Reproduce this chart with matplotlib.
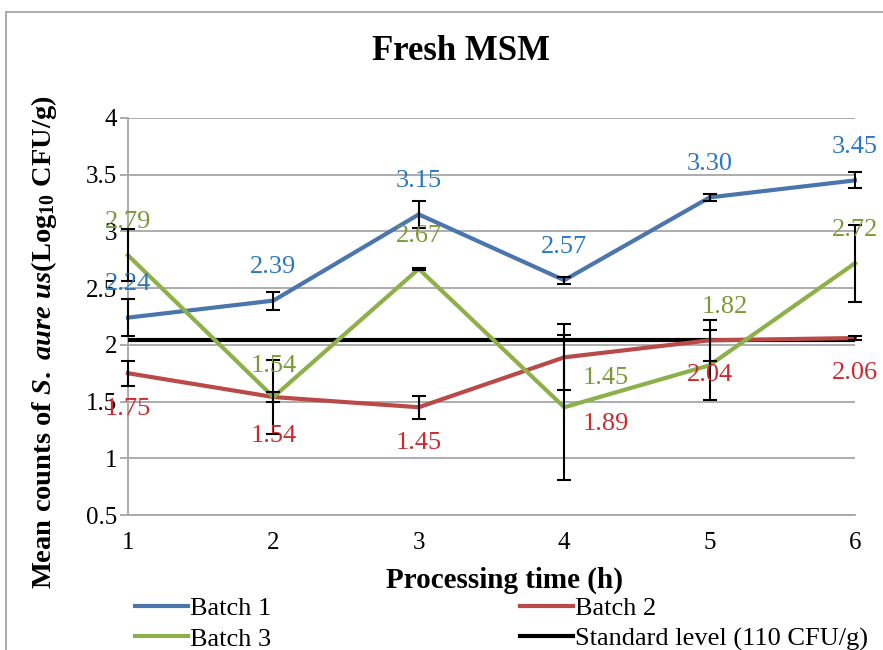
import numpy as np
import matplotlib
matplotlib.use("Agg")
import matplotlib.pyplot as plt
from matplotlib.lines import Line2D

plt.rcParams['font.family'] = ['Liberation Serif', 'DejaVu Serif']
plt.rcParams['mathtext.fontset'] = 'custom'
plt.rcParams['mathtext.rm'] = 'Liberation Serif:bold'
plt.rcParams['mathtext.it'] = 'Liberation Serif:bold:italic'
plt.rcParams['mathtext.bf'] = 'Liberation Serif:bold'

# data
hours = [1, 2, 3, 4, 5, 6]
batch1 = [2.24, 2.39, 3.15, 2.57, 3.30, 3.45]
batch2 = [1.75, 1.54, 1.45, 1.89, 2.04, 2.06]
batch3 = [2.79, 1.54, 2.67, 1.45, 1.82, 2.72]
err1 = [0.16, 0.08, 0.12, 0.03, 0.03, 0.07]
err2 = [0.11, 0.04, 0.10, 0.29, 0.18, 0.02]
err3 = [0.23, 0.33, 0.01, 0.64, 0.31, 0.34]
standard_level = np.log10(110)

# label offsets in points (dx, dy)
off1 = [(0, 24)] * 6
off2 = [(0, -26), (0, -28), (0, -26), (30, -48), (0, -25), (0, -25)]
off3 = [(0, 24), (0, 22), (0, 24), (30, 21), (11, 42), (0, 24)]

c1, c2, c3 = '#4a76ad', '#b94a47', '#8db04a'
t1, t2, t3 = '#2a78c2', '#cc2a2e', '#7a9a38'
grid_c = '#a6a6a6'

fig = plt.figure(figsize=(8.83, 6.5), dpi=100)
ax = fig.add_axes([128 / 883, 1 - 515 / 650, (855 - 128) / 883, (515 - 118) / 650])

ax.set_xlim(1, 6)
ax.set_ylim(0.5, 4)
ax.set_yticks(np.arange(0.5, 4.01, 0.5))
ax.set_yticklabels(['0.5', '1', '1.5', '2', '2.5', '3', '3.5', '4'])
ax.set_xticks(hours)
ax.yaxis.grid(True, color=grid_c, lw=1.3)
ax.set_axisbelow(True)
for s in ['top', 'right']:
    ax.spines[s].set_visible(False)
ax.spines['left'].set_color(grid_c)
ax.spines['left'].set_linewidth(1.3)
ax.spines['bottom'].set_color(grid_c)
ax.spines['bottom'].set_linewidth(1.3)
ax.tick_params(axis='y', length=6, color=grid_c, width=1.3, labelsize=18, pad=2)
ax.tick_params(axis='x', length=0, labelsize=18, pad=12)

ax.axhline(standard_level, color='black', lw=3, zorder=3)

for ys, es, c in [(batch1, err1, c1), (batch2, err2, c2), (batch3, err3, c3)]:
    ax.plot(hours, ys, color=c, lw=3, zorder=4, clip_on=False)
    ax.errorbar(hours, ys, yerr=es, fmt='none', ecolor='black', elinewidth=1.5,
                capsize=5, capthick=1.5, zorder=5, clip_on=False)

for ys, offs, tc in [(batch1, off1, t1), (batch2, off2, t2), (batch3, off3, t3)]:
    for x, y, (dx, dy) in zip(hours, ys, offs):
        ax.annotate('%.2f' % y, (x, y), xytext=(dx, dy), textcoords='offset points',
                    ha='center', va='center', color=tc, fontsize=19, zorder=6,
                    annotation_clip=False)

fig.text(505 / 883, 1 - 580 / 650, 'Processing time (h)', ha='center', va='center',
         fontsize=21, fontweight='bold')
fig.text(44 / 883, 1 - 342 / 650,
         r'$\mathrm{Mean\ counts\ of\ }\mathit{S.\ aure\ us}\mathrm{(Log_{10}\ CFU/g)}$',
         ha='center', va='center', rotation=90, fontsize=20.5)

fig.text(461 / 883, 1 - 52 / 650, 'Fresh MSM', ha='center', va='center',
         fontsize=25, fontweight='bold')

handles = [Line2D([], [], color=c1, lw=3), Line2D([], [], color=c3, lw=3),
           Line2D([], [], color=c2, lw=3), Line2D([], [], color='black', lw=3)]
labels = ['Batch 1', 'Batch 3', 'Batch 2', 'Standard level (110 CFU/g)']
fig.legend(handles, labels, loc='upper left', bbox_to_anchor=(135 / 883, 1 - 597 / 650),
           ncol=2, frameon=False, fontsize=19, handlelength=2.0, handletextpad=0.1,
           columnspacing=9.4, labelspacing=0.25, borderpad=0, borderaxespad=0)

# outer chart frame
fig.add_artist(Line2D([6 / 883, 6 / 883], [0, 1 - 12 / 650], color=grid_c, lw=1.3,
                      transform=fig.transFigure))
fig.add_artist(Line2D([6 / 883, 1], [1 - 12 / 650, 1 - 12 / 650], color=grid_c, lw=1.3,
                      transform=fig.transFigure))

fig.savefig('out.png', dpi=100)
